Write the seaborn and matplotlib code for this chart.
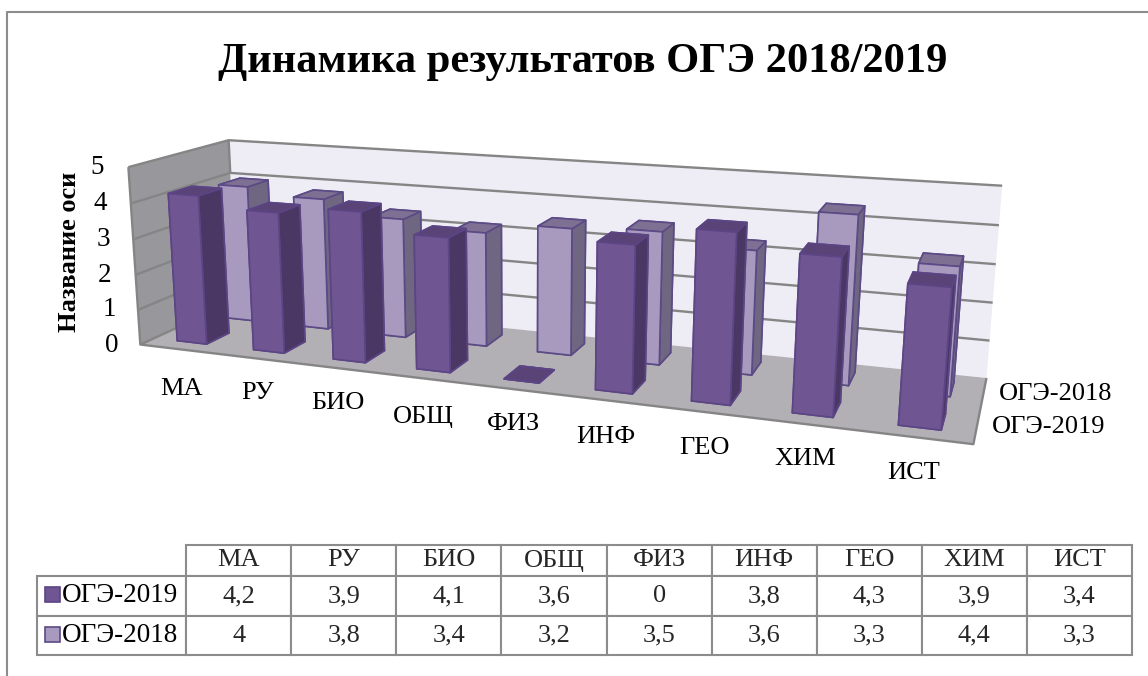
import numpy as np
import matplotlib
matplotlib.use('Agg')
import matplotlib.pyplot as plt
import seaborn as sns
from matplotlib.patches import Rectangle
from mpl_toolkits.mplot3d.art3d import Poly3DCollection, Line3DCollection

sns.set_theme(style='white')
plt.rcParams['font.family'] = ['Liberation Serif', 'DejaVu Sans']

#Chart data
subjects = ['МА', 'РУ', 'БИО', 'ОБЩ', 'ФИЗ', 'ИНФ', 'ГЕО', 'ХИМ', 'ИСТ']
oge_2019 = [4.2, 3.9, 4.1, 3.6, 0, 3.8, 4.3, 3.9, 3.4]
oge_2018 = [4, 3.8, 3.4, 3.2, 3.5, 3.6, 3.3, 4.4, 3.3]
series_names = ['ОГЭ-2019', 'ОГЭ-2018']
value_ticks = [0, 1, 2, 3, 4, 5]

W, H = 1148, 676

#Face colours: front, side, top for each series
dark = sns.color_palette(['#6f5591', '#4a3763', '#5a4377'])
light = sns.color_palette(['#a899bf', '#6f6781', '#7d7093'])
edge_dark = '#5b4585'
edge_light = '#5b4a85'

fig = plt.figure(figsize=(W / 100, H / 100), dpi=100, facecolor='white')

#Overlay in pixel coordinates for frame, text and table
ax2d = fig.add_axes([0, 0, 1, 1], zorder=5)
ax2d.set_xlim(0, W)
ax2d.set_ylim(H, 0)
ax2d.axis('off')

#3D axes has to stay square so it overshoots the figure
side = W / H
ax = fig.add_axes([0, (1 - side) / 2, 1, side], projection='3d', computed_zorder=False)
ax.set_axis_off()
ax.patch.set_visible(False)
ax.apply_aspect()

#Camera fitted to the corners of the chart box (x, depth, value) -> pixel
box_world = np.array([[0, 0, 0], [0, 0, 5], [0, 2, 0], [0, 2, 5], [9, 2, 0], [9, 2, 5], [9, 0, 0]], float)
box_pixel = np.array([[142, 345], [127, 166], [235, 300], [230, 141], [987, 377], [1002, 186], [973, 445]], float)
display = np.column_stack([box_pixel[:, 0], H - box_pixel[:, 1]])
view = ax.transData.inverted().transform(display)
rows = []
for (px, py, pz), (u, v) in zip(box_world, view):
    rows.append([px, py, pz, 1, 0, 0, 0, 0, -u * px, -u * py, -u * pz, -u])
    rows.append([0, 0, 0, 0, px, py, pz, 1, -v * px, -v * py, -v * pz, -v])
cam = np.linalg.svd(np.array(rows))[2][-1].reshape(3, 4)
cam = cam / cam[2, 3]
M = np.vstack([cam[0], cam[1], [-0.02, 1, -0.02, 0], cam[2]])
ax.get_proj = lambda: M

#Walls and floor
wall_back = '#eeecf4'
wall_left = '#98979b'
floor = '#b2afb5'
line_col = '#858585'
ax.add_collection3d(Poly3DCollection([[(0, 2, 0), (9, 2, 0), (9, 2, 5), (0, 2, 5)]], facecolor=wall_back, edgecolor='none', zorder=1))
ax.add_collection3d(Poly3DCollection([[(0, 0, 0), (0, 2, 0), (0, 2, 5), (0, 0, 5)]], facecolor=wall_left, edgecolor='none', zorder=1))
ax.add_collection3d(Poly3DCollection([[(0, 0, 0), (9, 0, 0), (9, 2, 0), (0, 2, 0)]], facecolor=floor, edgecolor='none', zorder=1))

#Gridlines
grid = []
for v in value_ticks[1:]:
    grid.append([(0, 0, v), (0, 2, v), (9, 2, v)])
grid.append([(0, 2, 0), (0, 0, 0), (9, 0, 0), (9, 2, 0)])
grid.append([(0, 0, 0), (0, 0, 5)])
grid.append([(0, 2, 4), (0, 2, 5)])
ax.add_collection3d(Line3DCollection(grid, colors=line_col, linewidths=1.7, zorder=2), autolim=False)

#Bars, back row first
bar_w = 0.39
bar_d = 0.46
for row, values, cols, edge in [(1, oge_2018, light, edge_light), (0, oge_2019, dark, edge_dark)]:
    face_cols = [cols[2], cols[2], cols[0], cols[1], cols[1], cols[1]]
    for i, val in enumerate(values):
        ax.bar3d(i + (1 - bar_w) / 2, row + (1 - bar_d) / 2, 0, bar_w, bar_d, val,
                 color=face_cols, shade=False, edgecolor=edge, linewidth=1.2, zorder=3 + (1 - row))

#Title and axis text
ax2d.text(583, 62, 'Динамика результатов ОГЭ 2018/2019', ha='center', va='center', fontsize=30.6, fontweight='bold', color='black')
ax2d.text(69, 252, 'Название оси', rotation=90, ha='center', va='center', fontsize=19, fontweight='bold', color='black')
tick_x = [112, 109, 105, 103, 100, 97]
tick_y = [345, 310, 275, 239, 203, 168]
for v, tx, ty in zip(value_ticks, tick_x, tick_y):
    ax2d.text(tx, ty, str(v), ha='center', va='center', fontsize=19.5, color='black')

label_x = [181, 258, 338, 423, 513, 606, 704, 805, 914]
label_y = [389, 393, 403, 417, 424, 437, 448, 459, 473]
for name, lx, ly in zip(subjects, label_x, label_y):
    ax2d.text(lx, ly, name, ha='center', va='center', fontsize=19, color='black')
ax2d.text(1056, 394, series_names[1], ha='center', va='center', fontsize=19, color='black')
ax2d.text(1049, 427, series_names[0], ha='center', va='center', fontsize=19, color='black')

#Outer frame, only top and left show in the picture
ax2d.plot([7, 7, W], [H, 12, 12], color='#8c8c8c', lw=1.5)

#Data table
fmt = lambda v: str(v).replace('.', ',')
cells = [[''] + subjects,
         [''] + [fmt(v) for v in oge_2019],
         [''] + [fmt(v) for v in oge_2018]]
tbl_x0, tbl_x1, tbl_y0, tbl_y1 = 37, 1132, 545, 655
col_w = [(186 - tbl_x0) / (tbl_x1 - tbl_x0)] + [105 / (tbl_x1 - tbl_x0)] * 9
tb = ax2d.table(cellText=cells, colWidths=col_w, cellLoc='center',
                bbox=[tbl_x0 / W, 1 - tbl_y1 / H, (tbl_x1 - tbl_x0) / W, (tbl_y1 - tbl_y0) / H])
tb.auto_set_font_size(False)
tb.set_fontsize(19)
for (r, c), cell in tb.get_celld().items():
    cell.set_edgecolor('#8c8c8c')
    cell.set_linewidth(1.5)
    cell.set_height({0: 31, 1: 40, 2: 39}[r] / (tbl_y1 - tbl_y0))
tb[(0, 0)].visible_edges = 'open'

#Row names and legend keys in the table
ax2d.text(178, 595, series_names[0], ha='right', va='center', fontsize=19.5, color='black')
ax2d.text(178, 635, series_names[1], ha='right', va='center', fontsize=19.5, color='black')
ax2d.add_patch(Rectangle((45, 587), 15, 15, facecolor=dark[0], edgecolor=edge_dark, lw=1.2))
ax2d.add_patch(Rectangle((45, 627), 15, 15, facecolor=light[0], edgecolor=edge_light, lw=1.2))

fig.savefig('out.png', dpi=100)
